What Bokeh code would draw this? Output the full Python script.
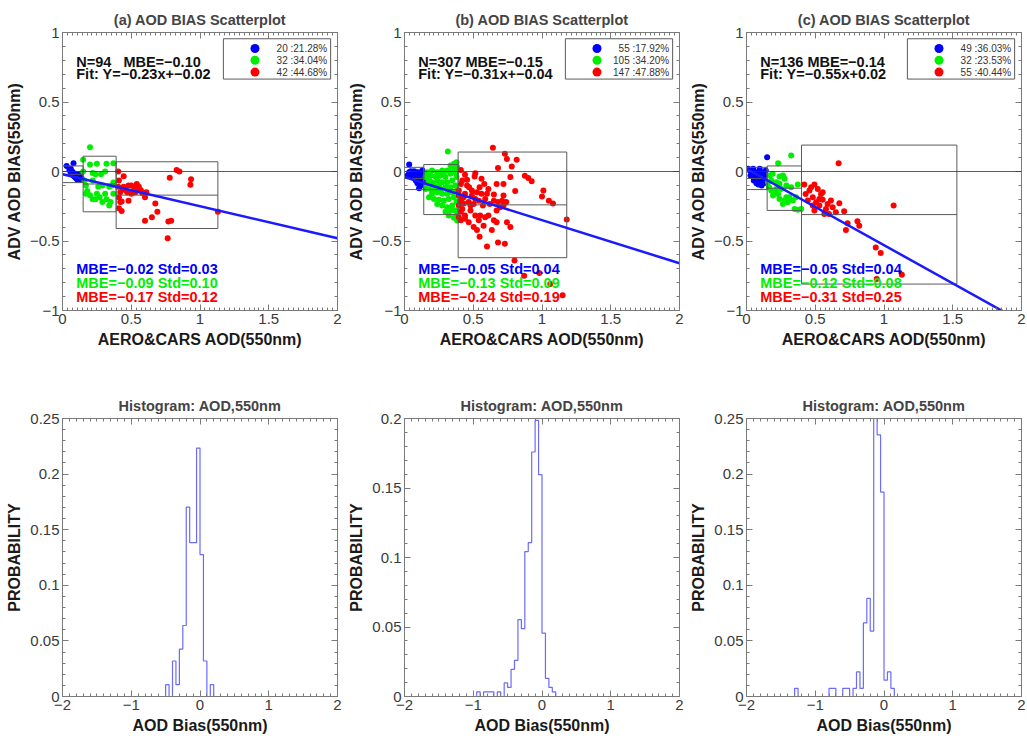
import numpy as np
from bokeh.core.properties import value
from bokeh.embed import file_html
from bokeh.layouts import gridplot
from bokeh.models import CustomJSTickFormatter, FixedTicker, Label, LinearAxis, Range1d, Span
from bokeh.plotting import figure
from bokeh.resources import INLINE

FONT = "Liberation Sans"
FRAME = "#7a7a7a"
COLORS = ["#0000ff", "#00ee00", "#ff0000"]

# ---------------- scatter data (AERO&CARS AOD, ADV AOD bias) ----------------
# panel (a)
a_blue_x = [0.03, 0.08, 0.05, 0.06, 0.07, 0.07, 0.08, 0.09, 0.09, 0.10, 0.10, 0.11, 0.11, 0.12, 0.12, 0.13, 0.13, 0.14, 0.08, 0.06]
a_blue_y = [0.04, 0.06, 0.01, -0.01, 0.00, -0.02, -0.03, -0.02, -0.04, -0.05, -0.03, -0.06, -0.04, -0.05, -0.02, -0.04, -0.06, -0.05, -0.01, 0.02]
a_green_x = [0.20, 0.15, 0.15, 0.16, 0.20, 0.25, 0.32, 0.37, 0.22, 0.24, 0.28, 0.31, 0.22, 0.17, 0.18, 0.20,
             0.22, 0.24, 0.27, 0.25, 0.29, 0.32, 0.34, 0.35, 0.34, 0.36, 0.37, 0.29, 0.26, 0.31, 0.37, 0.17]
a_green_y = [0.175, 0.085, 0.00, -0.065, 0.05, 0.055, 0.055, 0.06, -0.01, -0.02, -0.02, 0.00, -0.065, -0.10, -0.14, -0.17,
             -0.20, -0.20, -0.185, -0.16, -0.22, -0.20, -0.245, -0.22, -0.11, -0.10, -0.08, -0.10, -0.11, -0.16, -0.16, -0.16]
a_red_x = [0.405, 0.445, 0.41, 0.405, 0.42, 0.41, 0.43, 0.41, 0.43, 0.48, 0.50, 0.52, 0.54, 0.555, 0.53, 0.51, 0.50,
           0.58, 0.60, 0.55, 0.57, 0.46, 0.47, 0.60, 0.65, 0.69, 0.675, 0.78, 0.83, 0.85, 0.935, 0.93, 0.77, 0.79,
           0.765, 1.13, 0.445, 0.48, 0.61, 0.44, 0.42, 0.56]
a_red_y = [0.00, -0.035, -0.065, -0.11, -0.15, -0.185, -0.215, -0.265, -0.285, -0.21, -0.10, -0.11, -0.09, -0.11,
           -0.15, -0.15, -0.16, -0.155, -0.185, -0.125, -0.135, -0.135, -0.15, -0.355, -0.33, -0.29, -0.23, -0.045,
           0.01, 0.00, -0.055, -0.095, -0.36, -0.355, -0.48, -0.29, -0.11, -0.10, -0.15, -0.125, -0.22, -0.13]

# panel (b)
b_blue_x = [0.034, 0.046, 0.058, 0.07, 0.082, 0.094, 0.106, 0.118, 0.13, 0.065, 0.089, 0.113, 0.10, 0.123, 0.137,
            0.118, 0.106, 0.082, 0.046, 0.022, 0.13, 0.034, 0.075, 0.137, 0.094]
b_blue_y = [0.05, 0.002, -0.012, 0.002, -0.017, -0.005, -0.017, -0.005, -0.029, -0.029, -0.04, -0.04, -0.065, -0.065,
            -0.077, -0.10, -0.12, -0.065, -0.036, -0.029, 0.007, -0.005, -0.046, -0.04, -0.084]
b_green_x = [0.315, 0.335, 0.36, 0.378, 0.383, 0.347, 0.31, 0.274, 0.238, 0.20, 0.166, 0.154, 0.19, 0.226, 0.262,
             0.298, 0.335, 0.37, 0.378, 0.347, 0.31, 0.274, 0.238, 0.20, 0.166, 0.154, 0.19, 0.226, 0.262, 0.298,
             0.335, 0.37, 0.383, 0.347, 0.31, 0.274, 0.238, 0.20, 0.178, 0.214, 0.25, 0.286, 0.322, 0.36, 0.378,
             0.347, 0.31, 0.274, 0.238, 0.298, 0.335, 0.37, 0.378, 0.36, 0.383, 0.322, 0.214, 0.25, 0.286, 0.322,
             0.178, 0.214]
b_green_y = [0.144, 0.043, 0.055, 0.067, 0.031, 0.019, 0.007, 0.007, -0.005, 0.007, -0.005, -0.04, -0.03, -0.036,
             -0.03, -0.04, -0.017, -0.005, -0.04, -0.065, -0.077, -0.077, -0.065, -0.077, -0.09, -0.125, -0.125,
             -0.113, -0.125, -0.113, -0.113, -0.10, -0.137, -0.149, -0.16, -0.16, -0.149, -0.16, -0.185, -0.197,
             -0.204, -0.21, -0.197, -0.185, -0.22, -0.245, -0.257, -0.245, -0.233, -0.29, -0.28, -0.28, -0.317,
             -0.333, -0.353, -0.317, -0.10, -0.10, -0.005, -0.137, -0.06, -0.137]
b_red_x = [0.643, 0.73, 0.745, 0.78, 0.816, 0.68, 0.41, 0.44, 0.515, 0.51, 0.455, 0.56, 0.58, 0.546, 0.527, 0.60,
           0.65, 0.49, 0.44, 0.41, 0.43, 0.467, 0.42, 0.48, 0.503, 0.54, 0.57, 0.587, 0.62, 0.65, 0.68, 0.71, 0.74,
           0.72, 0.61, 0.587, 0.65, 0.67, 0.54, 0.515, 0.467, 0.44, 0.41, 0.503, 0.527, 0.546, 0.635, 0.68, 0.73,
           0.745, 0.60, 0.80, 0.87, 0.98, 1.06, 1.15, 1.18, 1.01, 1.05, 1.08, 0.875, 0.90, 0.925, 0.805, 1.00, 0.77,
           0.72, 0.67, 0.61, 0.47, 0.41, 0.395, 0.42, 0.455, 0.49, 0.395, 0.43, 0.395, 0.41, 0.395, 0.44, 0.77,
           0.67, 0.55, 0.575, 0.48, 0.515, 0.56, 0.72, 0.695]
b_red_y = [0.17, 0.127, 0.09, 0.036, 0.084, 0.026, 0.01, -0.024, -0.012, -0.036, -0.06, -0.053, -0.09, -0.113,
           -0.149, -0.16, -0.165, -0.173, -0.16, -0.21, -0.23, -0.22, -0.27, -0.28, -0.233, -0.21, -0.245, -0.197,
           -0.233, -0.21, -0.22, -0.21, -0.22, -0.245, -0.317, -0.33, -0.35, -0.28, -0.35, -0.317, -0.365, -0.34,
           -0.35, -0.40, -0.42, -0.47, -0.42, -0.51, -0.52, -0.365, -0.54, -0.64, -0.75, -0.73, -0.81, -0.89,
           -0.345, -0.137, -0.21, -0.23, -0.03, -0.046, -0.07, -0.14, -0.18, -0.04, -0.09, -0.09, -0.125, -0.113,
           -0.09, -0.137, -0.065, -0.10, -0.137, -0.173, -0.185, -0.245, -0.29, -0.33, -0.317, -0.40, -0.365,
           -0.317, -0.39, -0.245, -0.197, -0.16, -0.173, -0.257]

# panel (c)
c_blue_x = [0.012, 0.024, 0.036, 0.048, 0.06, 0.072, 0.084, 0.096, 0.108, 0.12, 0.13, 0.043, 0.067, 0.092, 0.116,
            0.077, 0.10, 0.125, 0.087, 0.11, 0.053, 0.029, 0.14, 0.15, 0.063, 0.106, 0.125, 0.096, 0.072, 0.048]
c_blue_y = [0.02, 0.007, -0.005, 0.002, -0.012, -0.005, -0.017, -0.012, -0.005, -0.017, -0.029, -0.029, -0.041,
            -0.046, -0.041, -0.065, -0.077, -0.065, -0.094, -0.10, -0.065, -0.029, 0.007, 0.103, -0.022, -0.029,
            -0.084, 0.02, -0.084, 0.02]
c_green_x = [0.23, 0.325, 0.17, 0.19, 0.24, 0.265, 0.277, 0.18, 0.217, 0.24, 0.29, 0.325, 0.373, 0.164, 0.18, 0.205,
             0.23, 0.193, 0.24, 0.277, 0.30, 0.29, 0.337, 0.313, 0.35, 0.373, 0.398, 0.217, 0.253, 0.157, 0.265, 0.36]
c_green_y = [0.06, 0.115, -0.029, -0.017, -0.036, -0.029, -0.053, -0.065, -0.077, -0.089, -0.10, -0.113, -0.094,
             -0.113, -0.137, -0.149, -0.161, -0.173, -0.197, -0.209, -0.221, -0.185, -0.209, -0.185, -0.27, -0.276,
             -0.27, -0.125, -0.125, -0.077, -0.233, -0.185]
c_red_x = [0.67, 0.42, 0.494, 0.458, 0.518, 0.554, 0.43, 0.482, 0.53, 0.506, 0.482, 0.554, 0.59, 0.578, 0.627, 0.65,
           0.566, 0.494, 0.71, 0.735, 0.723, 0.807, 0.82, 0.94, 0.976, 1.07, 1.13, 0.947, 0.446, 0.614, 0.53, 0.47,
           0.542, 0.675, 0.60]
c_red_y = [0.06, -0.094, -0.094, -0.137, -0.125, -0.149, -0.161, -0.185, -0.197, -0.221, -0.245, -0.204, -0.233,
           -0.27, -0.257, -0.293, -0.305, -0.281, -0.286, -0.373, -0.42, -0.358, -0.39, -0.546, -0.587, -0.245,
           -0.743, -0.774, -0.209, -0.209, -0.245, -0.113, -0.161, -0.228, -0.305]

# ---------------- summary statistics per panel ----------------
panel_names = ["(a)", "(b)", "(c)"]
n_total = [94, 307, 136]
mbe_total = [-0.10, -0.15, -0.14]
fit_slope = [-0.23, -0.31, -0.55]
fit_intercept = [-0.02, -0.04, 0.02]
group_counts = [[20, 32, 42], [55, 105, 147], [49, 32, 55]]
group_pct = [["21.28", "34.04", "44.68"], ["17.92", "34.20", "47.88"], ["36.03", "23.53", "40.44"]]
group_mbe = [[-0.02, -0.09, -0.17], [-0.05, -0.13, -0.24], [-0.05, -0.12, -0.31]]
group_std = [[0.03, 0.10, 0.12], [0.04, 0.09, 0.19], [0.04, 0.08, 0.25]]
group_edges = [[0.0, 0.15, 0.39, 1.13], [0.0, 0.14, 0.39, 1.18], [0.0, 0.15, 0.40, 1.53]]

# ---------------- histogram data (bins of 0.05 from -2 to 2) ----------------
hist_a_left = [-0.50, -0.40, -0.35, -0.30, -0.25, -0.20, -0.15, -0.10, -0.05, 0.00, 0.05, 0.15]
hist_a_count = [1, 3, 1, 4, 6, 16, 13, 13, 21, 12, 3, 1]
hist_b_left = [-0.95, -0.85, -0.80, -0.75, -0.65, -0.55, -0.50, -0.45, -0.40, -0.35, -0.30, -0.25, -0.20,
               -0.15, -0.10, -0.05, 0.00, 0.05, 0.10, 0.15]
hist_b_count = [1, 1, 1, 1, 1, 3, 2, 6, 8, 17, 15, 32, 34, 54, 61, 49, 14, 4, 2, 1]
hist_c_left = [-1.30, -0.80, -0.75, -0.60, -0.55, -0.45, -0.40, -0.35, -0.30, -0.25, -0.20, -0.15, -0.10,
               -0.05, 0.00, 0.05, 0.10]
hist_c_count = [1, 1, 1, 1, 1, 1, 3, 1, 9, 12, 8, 34, 32, 25, 2, 3, 1]
hist_ymax = [0.25, 0.2, 0.25]
BIN = 0.05

scatter_sets = [
    [(a_blue_x, a_blue_y), (a_green_x, a_green_y), (a_red_x, a_red_y)],
    [(b_blue_x, b_blue_y), (b_green_x, b_green_y), (b_red_x, b_red_y)],
    [(c_blue_x, c_blue_y), (c_green_x, c_green_y), (c_red_x, c_red_y)],
]
hist_sets = [(hist_a_left, hist_a_count), (hist_b_left, hist_b_count), (hist_c_left, hist_c_count)]
fig_widths = [342, 342, 343]


def fmt(v):
    return f"{v:.2f}".replace("-", "\u2212")


def tick_formatter():
    return CustomJSTickFormatter(
        code="return (Math.round(tick * 1000) / 1000).toString().replace('-', '\u2212');")


def style_axis(ax, ticks, minor, labels=True):
    ax.ticker = FixedTicker(ticks=ticks, minor_ticks=minor)
    ax.formatter = tick_formatter()
    ax.major_tick_in = 6
    ax.major_tick_out = 0
    ax.minor_tick_in = 3
    ax.minor_tick_out = 0
    ax.axis_line_color = FRAME
    ax.major_tick_line_color = FRAME
    ax.minor_tick_line_color = FRAME
    ax.major_label_text_font = FONT
    ax.major_label_text_font_size = "15px"
    ax.major_label_text_color = "#3a3a3a"
    ax.major_label_standoff = 3
    ax.axis_label_text_font = FONT
    ax.axis_label_text_font_size = "16px"
    ax.axis_label_text_font_style = "bold"
    ax.axis_label_text_color = "#1a1a1a"
    ax.axis_label_standoff = 4
    if not labels:
        ax.major_label_text_color = None
        ax.major_label_standoff = 0


def new_fig(width, title, xr, yr, xlabel, ylabel, xt, xm, yt, ym, height, top, bottom):
    p = figure(width=width, height=height, x_range=xr, y_range=yr, tools="",
               output_backend="svg", toolbar_location=None,
               min_border_left=62, min_border_right=width - 62 - 275,
               min_border_top=top, min_border_bottom=bottom)
    p.grid.visible = False
    p.outline_line_color = FRAME
    p.title.text = title
    p.title.align = "center"
    p.title.text_font = FONT
    p.title.text_font_size = "14.5px"
    p.title.text_font_style = "bold"
    p.title.standoff = 9
    p.xaxis.axis_label = xlabel
    p.yaxis.axis_label = ylabel
    style_axis(p.xaxis[0], xt, xm)
    style_axis(p.yaxis[0], yt, ym)
    top_ax = LinearAxis()
    style_axis(top_ax, xt, xm, labels=False)
    p.add_layout(top_ax, "above")
    right_ax = LinearAxis()
    style_axis(right_ax, yt, ym, labels=False)
    p.add_layout(right_ax, "right")
    return p


top_row = []
for i in range(3):
    p = new_fig(fig_widths[i], f"{panel_names[i]} AOD BIAS Scatterplot", Range1d(0, 2), Range1d(-1, 1),
                "AERO&CARS AOD(550nm)", "ADV AOD BIAS(550nm)",
                [0, 0.5, 1, 1.5, 2], list(np.arange(0, 2.0001, 0.5 / 14)),
                [-1, -0.5, 0, 0.5, 1], list(np.arange(-1, 1.0001, 0.1)),
                360, 32, 50)
    for (gx, gy), col in zip(scatter_sets[i], COLORS):
        p.scatter(gx, gy, size=6, fill_color=col, line_color=None)

    p.add_layout(Span(location=0, dimension="width", line_color="#333333", line_width=0.8))

    edges = group_edges[i]
    mbe = np.array(group_mbe[i])
    std = np.array(group_std[i])
    p.quad(left=edges[:-1], right=edges[1:], top=mbe + 2 * std, bottom=mbe - 2 * std,
           fill_color=None, line_color="#5a5a5a", line_width=1)
    p.segment(x0=edges[:-1], x1=edges[1:], y0=mbe, y1=mbe, line_color="#5a5a5a", line_width=1)

    fx = [0, 2]
    fy = [fit_intercept[i] + fit_slope[i] * v for v in fx]
    p.line(fx, fy, line_color="#1a1aff", line_width=2.5)

    sep = "\u00a0\u00a0\u00a0" if n_total[i] < 100 else " "
    for txt, yy in ((f"N={n_total[i]}{sep}MBE={fmt(mbe_total[i])}", 0.79),
                    (f"Fit: Y={fmt(fit_slope[i])}x+{fmt(fit_intercept[i])}", 0.70)):
        p.add_layout(Label(x=0.1, y=yy, text=txt, text_font=FONT, text_font_size="14.5px",
                           text_font_style="bold", text_color="#111111", text_baseline="middle"))
    for k, yy in enumerate((-0.70, -0.80, -0.90)):
        p.add_layout(Label(x=0.1, y=yy, text=f"MBE={fmt(group_mbe[i][k])} Std={group_std[i][k]:.2f}",
                           text_font=FONT, text_font_size="14.5px", text_font_style="bold",
                           text_color=COLORS[k], text_baseline="middle"))

    # legend box
    ly = [0.885, 0.80, 0.715]
    p.quad(left=[1.17], right=[1.95], top=[0.955], bottom=[0.665], fill_color=None,
           line_color="#5a5a5a", line_width=1)
    p.scatter([1.40] * 3, ly, size=9, fill_color=COLORS, line_color=None)
    p.text([1.925] * 3, ly, text=[f"{c} :{s}%" for c, s in zip(group_counts[i], group_pct[i])],
           text_font=value(FONT), text_font_size="10px", text_color="#333333",
           text_align="right", text_baseline="middle")
    top_row.append(p)

bottom_row = []
all_edges = np.round(np.arange(-2, 2.0001, BIN), 2)
for i in range(3):
    ymax = hist_ymax[i]
    yt = [0, 0.05, 0.1, 0.15, 0.2, 0.25] if ymax > 0.2 else [0, 0.05, 0.1, 0.15, 0.2]
    p = new_fig(fig_widths[i], "Histogram: AOD,550nm", Range1d(-2, 2), Range1d(0, ymax),
                "AOD Bias(550nm)", "PROBABILITY",
                [-2, -1, 0, 1, 2], list(np.arange(-2, 2.0001, 0.1)),
                yt, list(np.arange(0, ymax + 0.0001, 0.01)),
                376, 58, 38)
    counts = np.zeros(len(all_edges) - 1)
    for left, c in zip(*hist_sets[i]):
        counts[int(round((left + 2) / BIN))] = c
    prob = counts / n_total[i]
    p.step(all_edges, np.append(prob, prob[-1]), mode="after", line_color="#6b6bff", line_width=1.2)
    bottom_row.append(p)

grid = gridplot([top_row, bottom_row], toolbar_location=None)

open("out.html", "w").write(file_html(grid, INLINE))
